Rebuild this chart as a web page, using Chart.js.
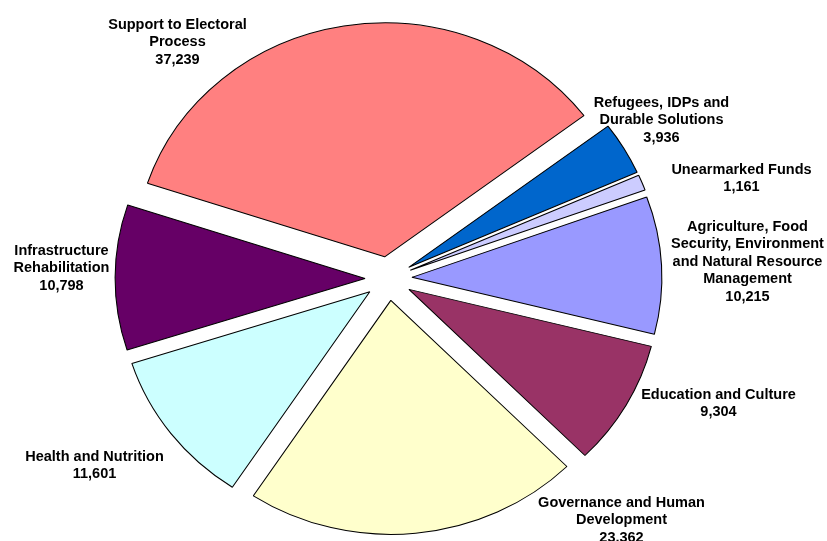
<!DOCTYPE html>
<html>
<head>
<meta charset="utf-8">
<title>Funding by Sector</title>
<script src="https://cdn.jsdelivr.net/npm/chart.js@4.4.1/dist/chart.umd.min.js"></script>
<style>
  html, body { margin: 0; padding: 0; background: #ffffff; }
  #wrap { width: 827px; height: 541px; }
</style>
</head>
<body>
<div id="wrap"><canvas id="sectorPie" width="827" height="541"></canvas></div>
<script>
// sectors, clockwise from the upper left
const sectors = [
  ['Support to Electoral', 'Process'],
  ['Refugees, IDPs and', 'Durable Solutions'],
  ['Unearmarked Funds'],
  ['Agriculture, Food', 'Security, Environment', 'and Natural Resource', 'Management'],
  ['Education and Culture'],
  ['Governance and Human', 'Development'],
  ['Health and Nutrition'],
  ['Infrastructure', 'Rehabilitation']
];
const amounts = [37239, 3936, 1161, 10215, 9304, 23362, 11601, 10798];
const sliceColors = ['#FF8080', '#0066CC', '#CCCCFF', '#9999FF', '#993366', '#FFFFCC', '#CCFFFF', '#660066'];

// label block placement: first-line centre, relative to the pie centre
const labelSpots = [
  [-211, -254], [273, -176], [353, -109], [359, -52],
  [330, 116], [233, 224], [-294, 178], [-327, -28]
];

const EXPLODE = 22;      // how far every slice is pulled out
const STRETCH_X = 1.068; // the pie is a little wider than tall
const LINE_H = 17.5;

function fmt(n) {
  return n.toLocaleString('en-US');
}

// draw the arcs ourselves so each one can be pulled out without growing
const explodedPie = {
  id: 'explodedPie',
  beforeDatasetsDraw(chart) {
    const ctx = chart.ctx;
    const arcs = chart.getDatasetMeta(0).data;
    const cx = arcs[0].x;
    ctx.save();
    ctx.translate(cx, 0);
    ctx.scale(STRETCH_X, 1);
    ctx.translate(-cx, 0);
    arcs.forEach(function(arc) {
      const mid = (arc.startAngle + arc.endAngle) / 2;
      ctx.save();
      ctx.translate(Math.cos(mid) * EXPLODE, Math.sin(mid) * EXPLODE);
      arc.draw(ctx);
      ctx.restore();
    });
    ctx.restore();
    return false;
  },
  afterDraw(chart) {
    const ctx = chart.ctx;
    const arcs = chart.getDatasetMeta(0).data;
    const cx = arcs[0].x, cy = arcs[0].y;
    ctx.save();
    ctx.fillStyle = '#000000';
    ctx.font = 'bold 14.5px "Liberation Sans", Arial, sans-serif';
    ctx.textAlign = 'center';
    ctx.textBaseline = 'middle';
    sectors.forEach(function(lines, i) {
      const x = cx + labelSpots[i][0];
      let y = cy + labelSpots[i][1];
      lines.concat([fmt(amounts[i])]).forEach(function(t) {
        ctx.fillText(t, x, y);
        y += LINE_H;
      });
    });
    ctx.restore();
  }
};

new Chart(document.getElementById('sectorPie'), {
  type: 'pie',
  data: {
    labels: sectors.map(function(s) { return s.join(' '); }),
    datasets: [{
      data: amounts,
      backgroundColor: sliceColors,
      borderColor: '#000000',
      borderWidth: 1
    }]
  },
  options: {
    responsive: false,
    animation: false,
    devicePixelRatio: 1,
    rotation: 288.3,
    radius: 234,
    layout: { padding: { left: 0, right: 50, top: 16, bottom: 0 } },
    plugins: {
      legend: { display: false },
      tooltip: { enabled: false }
    }
  },
  plugins: [explodedPie]
});
</script>
</body>
</html>
